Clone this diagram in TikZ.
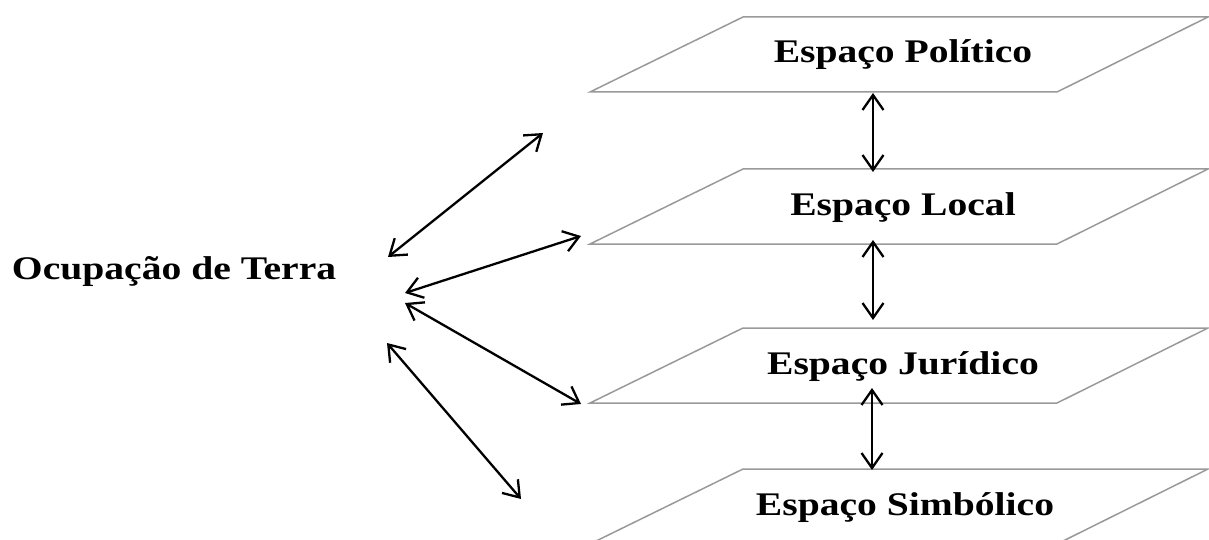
\documentclass[tikz,border=0pt]{standalone}
\usepackage{fontspec}
\setmainfont{Liberation Serif}
\usepackage{graphicx}
\usetikzlibrary{arrows.meta}
\tikzset{
  plane/.style={draw=gray!80, line width=1.5pt, line join=miter},
  link/.style={draw=black, line width=2.3pt,
    arrows={Straight Barb[length=15pt,width=21pt]-Straight Barb[length=15pt,width=21pt]}},
  lbl/.style={inner sep=0pt, outer sep=0pt, font=\bfseries\fontsize{33}{38}\selectfont},
}
\newcommand{\widetext}[1]{\scalebox{1.2}[1]{#1}}
\begin{document}
\begin{tikzpicture}[x=1pt,y=-1pt]
\useasboundingbox (0,0) rectangle (1209,540);
\begin{scope}
\clip (0,0) rectangle (1209,540);
\foreach \t in {17,169,328,469}{
  \draw[plane] (590,\t+75) -- (1057,\t+75) -- (1208,\t) -- (743,\t) -- cycle;
}
\end{scope}
% labels
\node[lbl, anchor=base] (pol) at (903,63) {\widetext{Espaço Político}};
\node[lbl, anchor=base] (loc) at (903,215) {\widetext{Espaço Local}};
\node[lbl, anchor=base] (jur) at (903,374) {\widetext{Espaço Jurídico}};
\node[lbl, anchor=base] (sim) at (905,515) {\widetext{Espaço Simbólico}};
\node[lbl, anchor=base west] (ocu) at (12,279) {\widetext{Ocupação de Terra}};
% connector end points
\coordinate (a1) at (388,257); \coordinate (a2) at (543,133);
\coordinate (b1) at (405,293); \coordinate (b2) at (581,236);
\coordinate (c1) at (405,303); \coordinate (c2) at (581,404);
\coordinate (d1) at (387,343); \coordinate (d2) at (521,499);
\coordinate (v1a) at (873,93);  \coordinate (v1b) at (873,172);
\coordinate (v2a) at (873,240); \coordinate (v2b) at (873,320);
\coordinate (v3a) at (872,388); \coordinate (v3b) at (872,470);
\draw[link] (a1) -- (a2);
\draw[link] (b1) -- (b2);
\draw[link] (c1) -- (c2);
\draw[link] (d1) -- (d2);
\draw[link] (v1a) -- (v1b);
\draw[link] (v2a) -- (v2b);
\draw[link] (v3a) -- (v3b);
\end{tikzpicture}
\end{document}
